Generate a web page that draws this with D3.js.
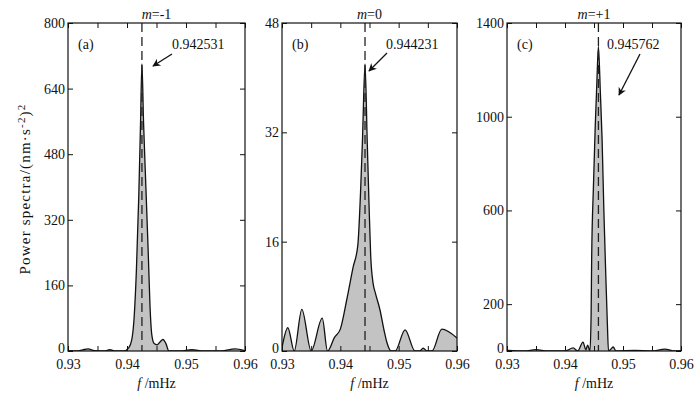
<!DOCTYPE html>
<html>
<head>
<meta charset="utf-8">
<script src="https://cdn.jsdelivr.net/npm/d3@7"></script>
<style>
  body { margin: 0; background: #fff; }
  svg text { font-family: "Liberation Serif", "Times New Roman", serif; fill: #111; }
</style>
</head>
<body>
<div id="chart"></div>
<script>
// values
const freqA = [0.930,0.9315,0.9325,0.9334,0.9345,0.9362,0.9371,0.9380,0.9395,0.9403,0.9408,0.9412,0.9416,0.9420,0.9423,0.94253,0.9428,0.9432,0.9436,0.9439,0.9442,0.9446,0.9451,0.9456,0.9461,0.9466,0.9471,0.9490,0.9510,0.9530,0.9560,0.9583,0.9600];
const powerA = [1,0,3,5,1,0,3,0,0,8,27,80,200,380,560,700,560,400,240,110,40,18,15,22,28,18,0,0,3,0,0,5,1];

const freqB = [0.9300,0.9310,0.9321,0.9334,0.9350,0.9369,0.9378,0.9390,0.9400,0.9411,0.9422,0.9430,0.9435,0.9438,0.94423,0.9446,0.9449,0.9452,0.9456,0.9460,0.9468,0.9475,0.9480,0.9487,0.9494,0.9511,0.9528,0.9536,0.9542,0.9549,0.9557,0.9574,0.9600];
const powerB = [0.5,3.4,0,6.1,0,4.8,0,2,3.2,7.5,12.3,15.5,24,31,42,31,22,14,10,8.5,6,3,1.2,0,0,3.1,0,0,0.4,0,0,3.2,1.9];

const freqC = [0.930,0.9330,0.9350,0.9370,0.9400,0.9414,0.9422,0.9431,0.9436,0.9439,0.9443,0.9445,0.9446,0.9449,0.9452,0.9455,0.94576,0.9461,0.9464,0.9467,0.9470,0.9473,0.9475,0.9478,0.9483,0.9488,0.9520,0.9550,0.9572,0.9590,0.9600];
const powerC = [3,0,6,0,0,13,0,38,5,25,0,150,400,700,950,1150,1300,1100,900,600,350,120,0,5,17,0,3,0,8,0,2];

const titles = ["m=-1", "m=0", "m=+1"];
const letters = ["(a)", "(b)", "(c)"];
const peakFreqs = [0.942531, 0.944231, 0.945762];
const peakLabels = ["0.942531", "0.944231", "0.945762"];
const yMax = [800, 48, 1400];
const yTickVals = [[0,160,320,480,640,800],[0,16,32,48],[0,200,600,1000,1400]];
const xTickVals = [0.930,0.935,0.940,0.945,0.950,0.955,0.960];
const xLabelVals = [0.93,0.94,0.95,0.96];

const W = 699, H = 396;
const plotTop = 23, plotBottom = 351;
const panels = [
  { left: 68, right: 245, freq: freqA, power: powerA, arrow: [[172,54],[153,66]], textX: 172 },
  { left: 282, right: 457, freq: freqB, power: powerB, arrow: [[387,53],[369,71]], textX: 386 },
  { left: 507, right: 681, freq: freqC, power: powerC, arrow: [[640,54],[619,95]], textX: 607 }
];

const svg = d3.select("#chart").append("svg")
  .attr("width", W).attr("height", H);

svg.append("defs").append("marker")
  .attr("id", "head")
  .attr("viewBox", "0 0 10 10")
  .attr("refX", 9).attr("refY", 5)
  .attr("markerWidth", 11).attr("markerHeight", 8)
  .attr("markerUnits", "userSpaceOnUse")
  .attr("orient", "auto")
  .append("path").attr("d", "M0,0 L10,5 L0,10 L3,5 Z").attr("fill", "#111");

panels.forEach((p, i) => {
  const x = d3.scaleLinear().domain([0.93, 0.96]).range([p.left, p.right]);
  const y = d3.scaleLinear().domain([0, yMax[i]]).range([plotBottom, plotTop]);
  const g = svg.append("g");

  const pts = p.freq.map((f, k) => [f, p.power[k]]);

  g.append("clipPath").attr("id", "clip" + i)
    .append("rect").attr("x", p.left).attr("y", plotTop)
    .attr("width", p.right - p.left).attr("height", plotBottom - plotTop);

  const area = d3.area().x(d => x(d[0])).y0(y(0)).y1(d => y(d[1])).curve(d3.curveMonotoneX);
  const line = d3.line().x(d => x(d[0])).y(d => y(d[1])).curve(d3.curveMonotoneX);

  g.append("path").datum(pts).attr("clip-path", `url(#clip${i})`)
    .attr("d", area).attr("fill", "#c3c3c3");
  g.append("path").datum(pts).attr("clip-path", `url(#clip${i})`)
    .attr("d", line).attr("fill", "none").attr("stroke", "#111").attr("stroke-width", 1.3);

  // dashed marker of the peak
  g.append("line")
    .attr("x1", x(peakFreqs[i])).attr("x2", x(peakFreqs[i]))
    .attr("y1", plotTop).attr("y2", plotBottom)
    .attr("stroke", "#222").attr("stroke-width", 1.3)
    .attr("stroke-dasharray", "9,5");

  // axes, ticks pointing inward
  const fmtX = d => xLabelVals.some(v => Math.abs(v - d) < 1e-9) ? d3.format(".2f")(d) : "";
  g.append("g").attr("transform", `translate(0,${plotBottom})`)
    .call(d3.axisBottom(x).tickValues(xTickVals).tickFormat(fmtX).tickSizeInner(-5).tickSizeOuter(0).tickPadding(8))
    .call(a => a.select(".domain").remove())
    .call(a => a.selectAll("text").attr("font-size", 14).attr("font-family", "Liberation Serif"));
  g.append("g").attr("transform", `translate(0,${plotTop})`)
    .call(d3.axisTop(x).tickValues(xTickVals).tickFormat("").tickSizeInner(-5).tickSizeOuter(0))
    .call(a => a.select(".domain").remove());
  g.append("g").attr("transform", `translate(${p.left},0)`)
    .call(d3.axisLeft(y).tickValues(yTickVals[i]).tickFormat(d3.format("d")).tickSizeInner(-5).tickSizeOuter(0).tickPadding(3))
    .call(a => a.select(".domain").remove())
    .call(a => a.selectAll("text").attr("font-size", 14).attr("font-family", "Liberation Serif")
      .attr("dy", d => d === 0 ? "0.1em" : "0.32em"));
  g.append("g").attr("transform", `translate(${p.right},0)`)
    .call(d3.axisRight(y).tickValues(yTickVals[i]).tickFormat("").tickSizeInner(-5).tickSizeOuter(0))
    .call(a => a.select(".domain").remove());
  g.selectAll(".tick line").attr("stroke", "#111");

  g.append("rect")
    .attr("x", p.left).attr("y", plotTop)
    .attr("width", p.right - p.left).attr("height", plotBottom - plotTop)
    .attr("fill", "none").attr("stroke", "#111").attr("stroke-width", 1.2);

  // title
  const cx = (p.left + p.right) / 2;
  const parts = titles[i].split("=");
  const t = g.append("text").attr("x", cx).attr("y", 19)
    .attr("text-anchor", "middle").attr("font-size", 14);
  t.append("tspan").attr("font-style", "italic").text(parts[0]);
  t.append("tspan").text("=" + parts[1]);

  g.append("text").attr("x", p.left + 10).attr("y", 49)
    .attr("font-size", 14).text(letters[i]);

  g.append("text").attr("x", p.textX).attr("y", 49)
    .attr("font-size", 14).text(peakLabels[i]);

  g.append("line")
    .attr("x1", p.arrow[0][0]).attr("y1", p.arrow[0][1])
    .attr("x2", p.arrow[1][0]).attr("y2", p.arrow[1][1])
    .attr("stroke", "#111").attr("stroke-width", 1.3)
    .attr("marker-end", "url(#head)");

  const xl = g.append("text").attr("x", cx).attr("y", 388)
    .attr("text-anchor", "middle").attr("font-size", 14);
  xl.append("tspan").attr("font-style", "italic").text("f");
  xl.append("tspan").text(" /mHz");
});

// y axis title
const yl = svg.append("text")
  .attr("transform", "translate(30,189) rotate(-90)")
  .attr("text-anchor", "middle").attr("font-size", 15)
  .attr("letter-spacing", 1.2);
yl.append("tspan").text("Power spectra/(nm·s");
yl.append("tspan").attr("dy", -5).attr("font-size", 11).text("-2");
yl.append("tspan").attr("dy", 5).text(")");
yl.append("tspan").attr("dy", -5).attr("font-size", 11).text("2");
</script>
</body>
</html>
